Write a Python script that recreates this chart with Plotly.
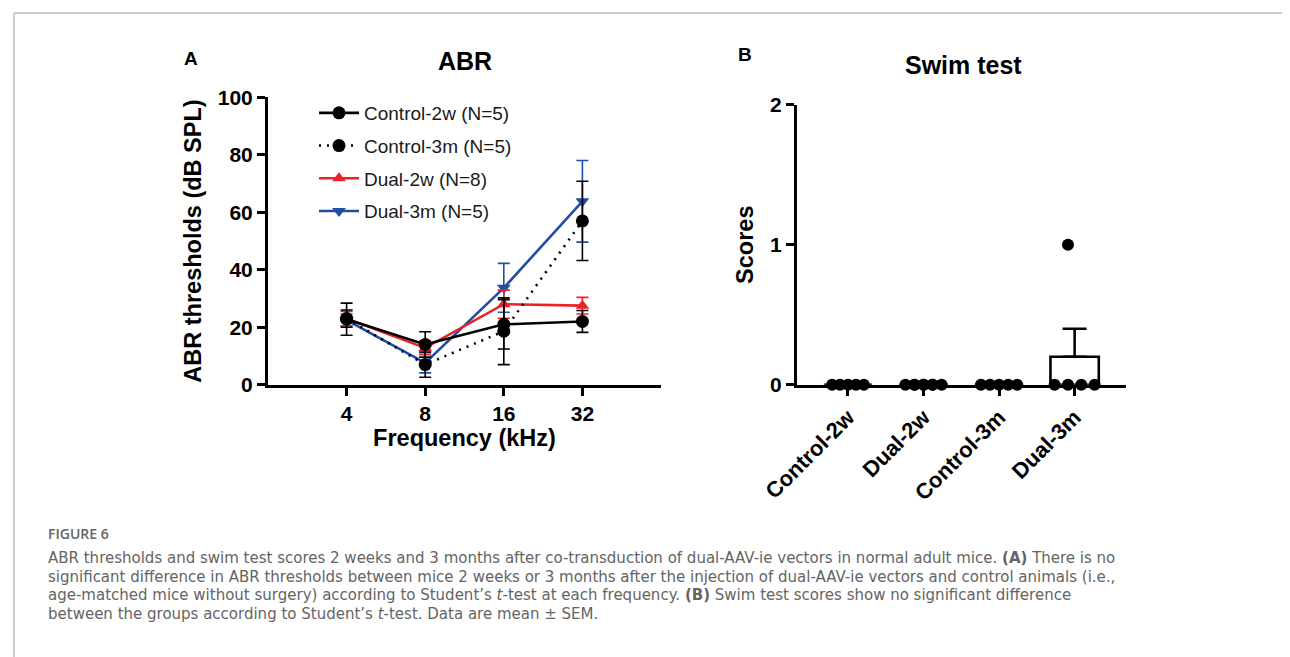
import plotly.graph_objects as go

# ---------------- data ----------------
freq_labels = ["4", "8", "16", "32"]

ctrl2w_mean = [22.8, 14.0, 21.0, 22.0]
ctrl2w_sem = [5.6, 4.4, 8.6, 3.8]
ctrl3m_mean = [23.0, 7.0, 18.6, 57.0]
ctrl3m_sem = [3.0, 4.4, 11.6, 13.8]
dual2w_mean = [23.0, 12.8, 28.0, 27.5]
dual2w_sem = [2.5, 2.4, 4.9, 2.9]
dual3m_mean = [22.5, 7.6, 33.7, 63.8]
dual3m_sem = [2.0, 3.5, 8.5, 14.2]

swim_groups = ["Control-2w", "Dual-2w", "Control-3m", "Dual-3m"]
swim_scores = {
    "Control-2w": [0, 0, 0, 0, 0],
    "Dual-2w": [0, 0, 0, 0, 0, 0, 0, 0],
    "Control-3m": [0, 0, 0, 0, 0],
    "Dual-3m": [1, 0, 0, 0, 0],
}
swim_mean = [0.0, 0.0, 0.0, 0.2]
swim_sem = [0.0, 0.0, 0.0, 0.2]
# horizontal scatter spread of individual points (category units)
swim_jitter = {
    "Control-2w": [-0.21, -0.105, 0.0, 0.105, 0.21],
    "Dual-2w": [-0.24, -0.12, -0.12, 0.0, 0.0, 0.12, 0.12, 0.24],
    "Control-3m": [-0.24, -0.12, 0.0, 0.12, 0.24],
    "Dual-3m": [-0.088, -0.265, -0.088, 0.088, 0.265],
}

# ---------------- style ----------------
W, H = 1290, 657
BLACK = "#000000"
RED = "#ec2227"
BLUE = "#1f4ea3"
FONT = "Liberation Sans, Arial, sans-serif"


def px_x(p):
    return p / W


def px_y(p):
    return 1 - p / H


fig = go.Figure()

series = [
    ("Dual-3m (N=5)", dual3m_mean, dual3m_sem, BLUE, "triangle-down", "solid", 4),
    ("Dual-2w (N=8)", dual2w_mean, dual2w_sem, RED, "triangle-up", "solid", 3),
    ("Control-3m (N=5)", ctrl3m_mean, ctrl3m_sem, BLACK, "circle", "2px,6px", 2),
    ("Control-2w (N=5)", ctrl2w_mean, ctrl2w_sem, BLACK, "circle", "solid", 1),
]
for name, m, s, col, sym, dash, rank in series:
    fig.add_trace(go.Scatter(
        x=freq_labels, y=m, name=name, mode="lines+markers",
        line=dict(color=col, width=2.6, dash=dash),
        marker=dict(symbol=sym, size=13 if sym == "circle" else 12, color=col),
        error_y=dict(type="data", array=s, visible=True, color=col,
                     thickness=1.6, width=6),
        legendrank=rank, legendgroup=name,
        xaxis="x", yaxis="y",
    ))

# Panel B: bars (mean) with upper SEM
fig.add_trace(go.Bar(
    x=list(range(len(swim_groups))), y=swim_mean, width=0.64,
    marker=dict(color="rgba(255,255,255,0)", line=dict(color=BLACK, width=2.6)),
    error_y=dict(type="data", array=swim_sem, arrayminus=[0] * len(swim_sem),
                 symmetric=False, visible=True, color=BLACK, thickness=2.6, width=12),
    showlegend=False, xaxis="x2", yaxis="y2",
))
for i, g in enumerate(swim_groups):
    vals = swim_scores[g]
    fig.add_trace(go.Scatter(
        x=[i + j for j in swim_jitter[g]], y=vals, mode="markers",
        marker=dict(symbol="circle", size=12, color=BLACK),
        showlegend=False, xaxis="x2", yaxis="y2", cliponaxis=False,
    ))

axis_common = dict(
    showline=True, linecolor=BLACK, linewidth=3, ticks="outside",
    ticklen=8, tickwidth=2.6, tickcolor=BLACK, showgrid=False, zeroline=False,
    automargin=False,
)
tick_font = dict(family=FONT, size=21, color=BLACK, weight="bold")
title_font = dict(family=FONT, size=23.5, color=BLACK)

fig.update_layout(
    template="none",
    width=W, height=H, margin=dict(l=0, r=0, t=0, b=0, pad=0, autoexpand=False),
    paper_bgcolor="white", plot_bgcolor="white",
    font=dict(family=FONT, color=BLACK),
    showlegend=True,
    legend=dict(
        x=px_x(306), y=px_y(86), xanchor="left", yanchor="top",
        font=dict(family=FONT, size=19, color="#1a1a1a"),
        bgcolor="rgba(0,0,0,0)", tracegroupgap=5, itemwidth=40,
    ),
    xaxis=dict(
        domain=[px_x(260), px_x(653)], type="category", range=[-1, 4],
        anchor="y", tickfont=tick_font,
        title=dict(text="<b>Frequency (kHz)</b>", standoff=6, font=title_font),
        **axis_common,
    ),
    yaxis=dict(
        domain=[px_y(376.7), px_y(89.3)], range=[0, 100], anchor="x",
        tickvals=[0, 20, 40, 60, 80, 100], tickfont=tick_font,
        title=dict(text="<b>ABR thresholds (dB SPL)</b>", standoff=10, font=title_font),
        **axis_common,
    ),
    xaxis2=dict(
        domain=[px_x(789), px_x(1118)], range=[-0.675, 3.68], anchor="y2",
        tickvals=list(range(len(swim_groups))), ticktext=swim_groups,
        tickangle=-45, tickfont=dict(family=FONT, size=22, color=BLACK, weight="bold"),
        **axis_common,
    ),
    yaxis2=dict(
        domain=[px_y(376.7), px_y(96.7)], range=[0, 2], anchor="x2",
        tickvals=[0, 1, 2], tickfont=tick_font,
        title=dict(text="<b>Scores</b>", standoff=10, font=title_font),
        **axis_common,
    ),
)

annotations = [
    dict(text="<b>A</b>", x=px_x(183), y=px_y(51), size=19),
    dict(text="<b>ABR</b>", x=px_x(456.7), y=px_y(53.3), size=25),
    dict(text="<b>B</b>", x=px_x(737), y=px_y(46), size=19),
    dict(text="<b>Swim test</b>", x=px_x(955), y=px_y(56.7), size=25),
]
for a in annotations:
    fig.add_annotation(xref="paper", yref="paper", showarrow=False,
                       xanchor="center", yanchor="middle",
                       text=a["text"], x=a["x"], y=a["y"],
                       font=dict(family=FONT, color=BLACK, size=a["size"]))

CAP_COLOR = "#646464"
fig.add_annotation(xref="paper", yref="paper", showarrow=False, xanchor="left",
                   yanchor="middle", x=px_x(38), y=px_y(525), text="FIGURE 6",
                   font=dict(family="Open Sans, sans-serif", size=14, color=CAP_COLOR,
                             weight=600))
caption_lines = [
    "ABR thresholds and swim test scores 2 weeks and 3 months after co-transduction of dual-AAV-ie vectors in normal adult mice. <b>(A)</b> There is no",
    "significant difference in ABR thresholds between mice 2 weeks or 3 months after the injection of dual-AAV-ie vectors and control animals (i.e.,",
    "age-matched mice without surgery) according to Student’s <i>t</i>-test at each frequency. <b>(B)</b> Swim test scores show no significant difference",
    "between the groups according to Student’s <i>t</i>-test. Data are mean ± SEM.",
]
for k, line in enumerate(caption_lines):
    fig.add_annotation(xref="paper", yref="paper", showarrow=False, xanchor="left",
                       yanchor="middle", x=px_x(38), y=px_y(550 + 18.5 * k), text=line,
                       font=dict(family="DejaVu Sans, sans-serif", size=15,
                                 color=CAP_COLOR, weight=400))

# page frame lines
fig.add_shape(type="line", xref="paper", yref="paper", x0=px_x(6), x1=1,
              y0=px_y(5), y1=px_y(5), line=dict(color="#bdbdbd", width=1.5))
fig.add_shape(type="line", xref="paper", yref="paper", x0=px_x(6), x1=px_x(6),
              y0=px_y(5), y1=0, line=dict(color="#bdbdbd", width=1.5))

fig.write_html("out.html")
